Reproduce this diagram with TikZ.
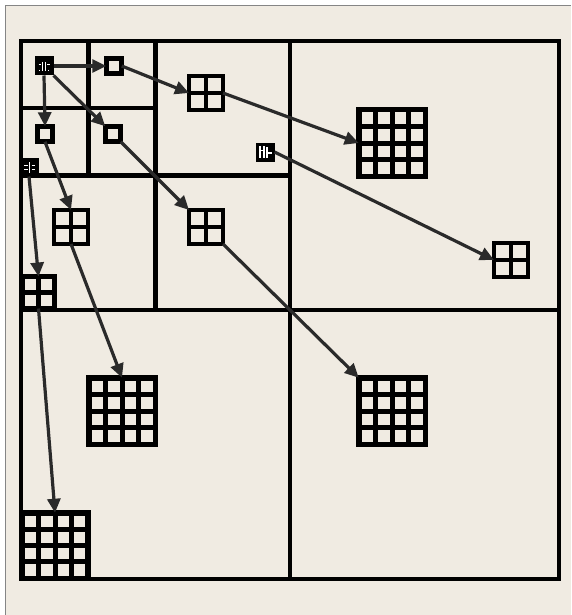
\documentclass[tikz,border=0pt]{standalone}
\usetikzlibrary{calc,arrows.meta}
\definecolor{bgc}{HTML}{F0EBE2}
\definecolor{arrowc}{HTML}{2A2A2A}
\definecolor{framec}{HTML}{858585}
\tikzset{
  gridline/.style={draw=black, line width=4.6pt},
  cellbox/.style={draw=black, line width=4.6pt, fill=bgc, minimum size=15.5pt, inner sep=0pt, outer sep=0pt},
  blackbox/.style={fill=black, minimum size=19pt, inner sep=0pt, outer sep=0pt},
  glyph/.style={draw=white, line width=1.2pt},
  grid2/.style={draw=black, line width=4.6pt, fill=bgc, minimum size=#1, inner sep=0pt, outer sep=0pt,
    path picture={
      \draw[line width=4.4pt] (path picture bounding box.north) -- (path picture bounding box.south)
                            (path picture bounding box.west) -- (path picture bounding box.east);
    }},
  grid2/.default=34pt,
  grid4/.style={draw=black, line width=5.5pt, fill=bgc, minimum size=#1, inner sep=0pt, outer sep=0pt,
    path picture={
      \foreach \t in {0.25,0.5,0.75}{
        \draw[line width=5pt]
          ($(path picture bounding box.north west)!\t!(path picture bounding box.north east)$) --
          ($(path picture bounding box.south west)!\t!(path picture bounding box.south east)$);
        \draw[line width=5pt]
          ($(path picture bounding box.north west)!\t!(path picture bounding box.south west)$) --
          ($(path picture bounding box.north east)!\t!(path picture bounding box.south east)$);
      }
    }},
  grid4/.default=66.5pt,
  arr/.style={draw=arrowc, line width=3.2pt, -{Triangle[length=14pt,width=13pt]}}
}
\begin{document}
\begin{tikzpicture}[x=1pt,y=-1pt]
\useasboundingbox (0,0) rectangle (571,615);
\fill[white] (0,0) rectangle (571,615);
\fill[bgc] (5,5) rectangle (571,615);
\draw[framec, line width=1.3pt] (5.6,615) -- (5.6,5.6) -- (571,5.6);

% quadtree grid
\draw[gridline] (21,41) rectangle (559,579);
\draw[gridline] (290,41) -- (290,579);
\draw[gridline] (21,310) -- (559,310);
\draw[gridline] (155.5,41) -- (155.5,310);
\draw[gridline] (21,175.5) -- (290,175.5);
\draw[gridline] (88.2,41) -- (88.2,175.5);
\draw[gridline] (21,108.2) -- (155.5,108.2);

% nodes
\node[blackbox] (b1) at (44,66) {};
\node[blackbox] (b2) at (265,152) {};
\node[blackbox] (b3) at (29,167) {};
\node[cellbox] (s1) at (114,66) {};
\node[cellbox] (s2) at (45,134) {};
\node[cellbox] (s3) at (113,134) {};
\node[grid2] (g2a) at (206,93) {};
\node[grid2] (g2b) at (71,227) {};
\node[grid2=32pt] (g2c) at (38.5,292.5) {};
\node[grid2] (g2d) at (206,227) {};
\node[grid2] (g2e) at (511,260) {};
\node[grid4] (g4a) at (392,143) {};
\node[grid4] (g4b) at (122,411) {};
\node[grid4=65.5pt] (g4c) at (55,545.5) {};
\node[grid4] (g4d) at (392,411) {};

% glyphs in black boxes
\begin{scope}[shift={(b1.center)}]
  \draw[glyph] (-1.6,-4) -- (-1.6,5) (1.6,-4) -- (1.6,5);
  \draw[glyph] (-5.5,-1.5) -- (-3.2,-1.5) (3.2,-1.5) -- (5.5,-1.5);
  \draw[glyph] (-4.2,4) -- (-4.2,5.2) (4.2,4) -- (4.2,5.2);
\end{scope}
\begin{scope}[shift={(b2.center)}]
  \draw[glyph] (-5,-6) -- (-5,6) (-1,-6) -- (-1,6) (-5,-1.5) -- (-1,-1.5);
  \draw[glyph] (2,-5) -- (2,6) (2,1) -- (7,1);
\end{scope}
\begin{scope}[shift={(b3.center)}]
  \draw[glyph] (0.5,-5) -- (0.5,6);
  \draw[glyph] (-5,-1.5) -- (-1.5,-1.5) (-5,2.5) -- (-1.5,2.5);
  \draw[glyph] (2.5,-1.5) -- (6,-1.5) (2.5,2.5) -- (6,2.5);
\end{scope}

% connectors
\draw[arr] (b1.east) -- (s1.west);
\draw[arr] (b1.south) -- (s2.north);
\draw[arr] (b1.south east) -- (s3.north west);
\draw[arr] (s1.east) -- (g2a.west);
\draw[arr] (g2a.east) -- (g4a.west);
\draw[arr] (b2.east) -- (g2e.west);
\draw[arr] (s2.south) -- (g2b.north);
\draw[arr] (g2b.south) -- (g4b.north);
\draw[arr] (s3.south east) -- (g2d.north west);
\draw[arr] (g2d.south east) -- (g4d.north west);
\draw[arr] (b3.south) -- (g2c.north);
\draw[arr] (g2c.south) -- (g4c.north);
\end{tikzpicture}
\end{document}
